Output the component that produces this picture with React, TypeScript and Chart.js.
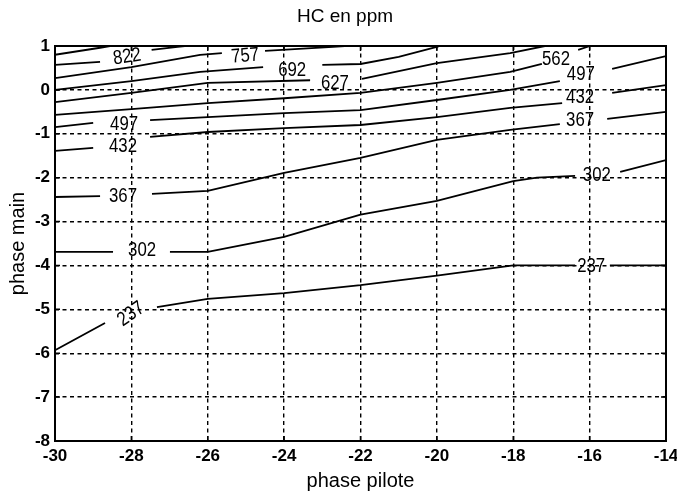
import React, { useEffect, useRef } from "react";
import { Chart, registerables } from "chart.js";

Chart.register(...registerables);

const SANS = "'Liberation Sans', Arial, sans-serif";

// Title
const chartTitle = "HC en ppm";

// Axis ticks
const xTickValues = [-30, -28, -26, -24, -22, -20, -18, -16, -14];
const yTickValues = [-8, -7, -6, -5, -4, -3, -2, -1, 0, 1];

// Contour levels (null = gap where an inline label sits)
const xs887 = [-30, -28.82, -28.56];
const ys887 = [0.8, 0.96, 1.0];

const xs822 = [-30, -28.82, -28.1, -27.47, -26.79, -26.6];
const ys822 = [0.57, 0.64, null, 0.91, 0.98, 1.0];

const xs757 = [-30, -28.0, -26.2, -25.63, -25.0, -24.5, -22.72, -22.41];
const ys757 = [0.27, 0.52, 0.8, 0.84, null, 0.89, 0.98, 1.0];

const xs692 = [-30, -28.0, -26.2, -24.55, -23.8, -23.0, -22.0, -21.0, -20.0, -19.92];
const ys692 = [0.0, 0.2, 0.41, 0.52, null, 0.57, 0.59, 0.75, 0.98, 1.0];

const xs627 = [-30, -28, -26, -23.32, -22.65, -21.96, -20.0, -18.08, -17.17];
const ys627 = [-0.28, -0.07, 0.16, 0.22, null, 0.25, 0.61, 0.84, 1.0];

const xs562 = [-30, -28, -26, -24, -22, -20, -18.08, -17.25, -16.9, -16.3, -15.99];
const ys562 = [-0.57, -0.44, -0.3, -0.19, -0.07, 0.16, 0.41, 0.59, null, 0.91, 1.0];

const xs497 = [-30, -29.0, -28.2, -27.51, -26, -24, -22, -20, -18.08, -16.78, -16.15, -15.41, -14];
const ys497 = [-0.85, -0.75, null, -0.69, -0.62, -0.53, -0.46, -0.23, 0.0, 0.2, null, 0.48, 0.77];

const xs432 = [-30, -29.0, -28.2, -27.51, -26, -24, -22, -20, -18.08, -16.72, -16.2, -15.41, -14];
const ys432 = [-1.39, -1.32, null, -1.07, -0.96, -0.87, -0.8, -0.62, -0.41, -0.3, null, -0.07, 0.11];

const xs367 = [-30, -28.82, -28.2, -27.46, -26, -24, -22, -20, -18.08, -16.78, -16.25, -15.54, -14];
const ys367 = [-2.44, -2.42, null, -2.37, -2.3, -1.89, -1.55, -1.14, -0.91, -0.78, null, -0.66, -0.5];

const xs302 = [-30, -28.48, -27.8, -26.99, -26, -24, -22, -20, -18, -17.38, -16.38, -15.85, -15.2, -14];
const ys302 = [-3.69, -3.69, null, -3.69, -3.69, -3.35, -2.84, -2.53, -2.08, -2.0, -1.96, null, -1.87, -1.6];

const xs237 = [-30, -28.69, -28.1, -27.33, -26, -24, -22, -20, -18, -16.38, -15.9, -15.47, -14];
const ys237 = [-5.93, -5.31, null, -4.95, -4.76, -4.63, -4.45, -4.23, -4.0, -4.0, null, -4.0, -4.0];

const contourXs = [xs887, xs822, xs757, xs692, xs627, xs562, xs497, xs432, xs367, xs302, xs237];
const contourYs = [ys887, ys822, ys757, ys692, ys627, ys562, ys497, ys432, ys367, ys302, ys237];
const contourNames = ["887", "822", "757", "692", "627", "562", "497", "432", "367", "302", "237"];

// Inline contour labels
const labelTexts = ["822", "757", "692", "627", "562", "497", "432", "367", "302", "237", "497", "432", "367", "302", "237"];
const labelXs = [-28.11, -25.02, -23.79, -22.67, -16.88, -16.23, -16.25, -16.25, -15.81, -15.96, -28.19, -28.22, -28.22, -27.72, -28.01];
const labelYs = [0.75, 0.77, 0.45, 0.15, 0.7, 0.36, -0.18, -0.7, -1.96, -4.03, -0.78, -1.28, -2.42, -3.67, -5.11];
const labelAngles = [-8, -5, 0, 0, 0, 0, 0, 0, 0, 0, 0, 0, 0, 0, -35];

const framePlugin = {
  id: "frameAndLabels",
  afterDatasetsDraw(chart: any) {
    const { ctx, chartArea, scales } = chart;
    const { left, right, top, bottom } = chartArea;
    ctx.save();
    // inward ticks
    ctx.strokeStyle = "#000";
    ctx.lineWidth = 1.5;
    ctx.setLineDash([]);
    const tl = 5;
    ctx.beginPath();
    xTickValues.forEach((v) => {
      const px = scales.x.getPixelForValue(v);
      ctx.moveTo(px, bottom);
      ctx.lineTo(px, bottom - tl);
      ctx.moveTo(px, top);
      ctx.lineTo(px, top + tl);
    });
    yTickValues.forEach((v) => {
      const py = scales.y.getPixelForValue(v);
      ctx.moveTo(left, py);
      ctx.lineTo(left + tl, py);
      ctx.moveTo(right, py);
      ctx.lineTo(right - tl, py);
    });
    ctx.stroke();
    // frame
    ctx.lineWidth = 2;
    ctx.strokeRect(left, top, right - left, bottom - top);
    // contour labels (condensed look)
    ctx.fillStyle = "#000";
    ctx.font = `20px ${SANS}`;
    ctx.textAlign = "center";
    ctx.textBaseline = "middle";
    labelTexts.forEach((t, i) => {
      const px = scales.x.getPixelForValue(labelXs[i]);
      const py = scales.y.getPixelForValue(labelYs[i]);
      ctx.save();
      ctx.translate(px, py);
      ctx.rotate((labelAngles[i] * Math.PI) / 180);
      ctx.scale(0.84, 1);
      ctx.fillText(t, 0, 0);
      ctx.restore();
    });
    // title
    ctx.font = `19px ${SANS}`;
    ctx.textBaseline = "middle";
    ctx.fillText(chartTitle, 345, 17);
    ctx.restore();
  },
};

export default function App() {
  const canvasRef = useRef<HTMLCanvasElement | null>(null);

  useEffect(() => {
    document.body.style.margin = "0";
    const canvas = canvasRef.current;
    if (!canvas) return;

    const datasets = contourNames.map((name, k) => ({
      label: name,
      data: contourXs[k].map((x, i) => ({ x, y: contourYs[k][i] })),
      showLine: true,
      spanGaps: false,
      borderColor: "#000",
      borderWidth: 1.8,
      pointRadius: 0,
      pointHoverRadius: 0,
      tension: 0,
      fill: false,
    }));

    const chart = new Chart(canvas, {
      type: "scatter",
      data: { datasets: datasets as any },
      options: {
        animation: false,
        responsive: true,
        maintainAspectRatio: false,
        layout: { padding: { top: 46, right: 11, bottom: 0, left: 0 } },
        plugins: {
          legend: { display: false },
          tooltip: { enabled: false },
          title: { display: false },
        },
        scales: {
          x: {
            type: "linear",
            min: -30,
            max: -14,
            afterBuildTicks: (s: any) => {
              s.ticks = xTickValues.map((v) => ({ value: v }));
            },
            afterFit: (s: any) => {
              s.height = 58;
              s.paddingRight = 0;
              s.paddingLeft = 0;
            },
            ticks: {
              color: "#000",
              font: { family: SANS, size: 17, weight: "bold" },
              padding: 5,
              maxRotation: 0,
              autoSkip: false,
            },
            grid: { color: "#000", lineWidth: 1.4, drawTicks: false },
            border: { display: false, dash: [4, 3.5] },
            title: {
              display: true,
              text: "phase pilote",
              color: "#000",
              font: { family: SANS, size: 20 },
              padding: { top: 0, bottom: 6 },
            },
          },
          y: {
            type: "linear",
            min: -8,
            max: 1,
            afterBuildTicks: (s: any) => {
              s.ticks = yTickValues.map((v) => ({ value: v }));
            },
            afterFit: (s: any) => {
              s.width = 55;
              s.paddingTop = 0;
              s.paddingBottom = 0;
            },
            ticks: {
              color: "#000",
              font: { family: SANS, size: 17, weight: "bold" },
              padding: 5,
              autoSkip: false,
            },
            grid: { color: "#000", lineWidth: 1.4, drawTicks: false },
            border: { display: false, dash: [4, 3.5] },
            title: {
              display: true,
              text: "phase main",
              color: "#000",
              font: { family: SANS, size: 20 },
              padding: { top: 6, bottom: 0 },
            },
          },
        },
      },
      plugins: [framePlugin],
    });

    return () => chart.destroy();
  }, []);

  return (
    <div style={{ position: "relative", width: 677, height: 499 }}>
      <canvas ref={canvasRef} />
    </div>
  );
}
